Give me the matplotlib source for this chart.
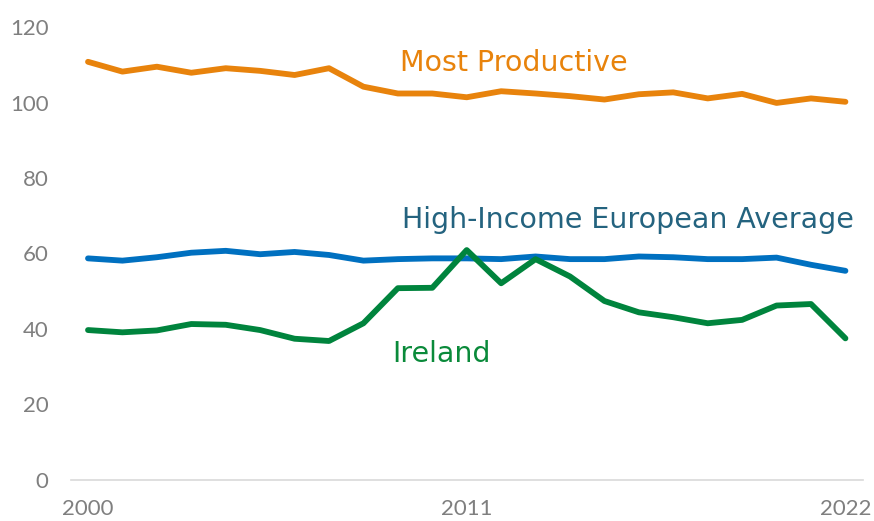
import numpy as np
import matplotlib
matplotlib.use("Agg")
import matplotlib.pyplot as plt

plt.rcParams['font.family'] = ['Lato', 'DejaVu Sans']

years = list(range(2000, 2023))
most_productive = [110.8, 108.2, 109.5, 107.9, 109.1, 108.4, 107.3, 109.1, 104.2, 102.4, 102.4, 101.4,
                   103.0, 102.4, 101.7, 100.8, 102.2, 102.7, 101.1, 102.3, 99.9, 101.1, 100.2]
high_income_eu = [58.7, 58.1, 59.0, 60.2, 60.7, 59.8, 60.4, 59.6, 58.1, 58.5, 58.7, 58.7,
                  58.5, 59.2, 58.5, 58.5, 59.2, 59.0, 58.5, 58.5, 58.9, 57.0, 55.4]
ireland = [39.7, 39.1, 39.6, 41.3, 41.1, 39.7, 37.4, 36.8, 41.5, 50.8, 50.9, 60.9,
           52.1, 58.5, 53.9, 47.4, 44.4, 43.1, 41.5, 42.4, 46.2, 46.6, 37.5]

orange = '#E8830C'
blue = '#0070C0'
green = '#00843D'

fig = plt.figure(figsize=(8.74, 5.21), dpi=100)
ax = fig.add_axes([0.081, 0.079, 0.906, 0.869])

ax.plot(years, most_productive, color=orange, lw=4.2, solid_capstyle='round', solid_joinstyle='round')
ax.plot(years, high_income_eu, color=blue, lw=4.2, solid_capstyle='round', solid_joinstyle='round')
ax.plot(years, ireland, color=green, lw=4.2, solid_capstyle='round', solid_joinstyle='round')

lab = dict(fontsize=20.5, ha='center', va='center', family=['DejaVu Sans'])
ax.text(2012.38, 110.4, 'Most Productive', color=orange, **lab)
ax.text(2015.67, 68.8, 'High-Income European Average', color='#24637F', **lab)
ax.text(2010.26, 33.3, 'Ireland', color='#0A8A3A', **lab)

ax.set_xlim(1999.5, 2022.5)
ax.set_ylim(0, 120)
ax.set_yticks(range(0, 121, 20))
ax.set_xticks([2000, 2011, 2022])
ax.tick_params(axis='both', length=0, labelsize=16, labelcolor='#7F7F7F')
ax.tick_params(axis='y', pad=16)
ax.tick_params(axis='x', pad=14)

for s in ['top', 'right', 'left']:
    ax.spines[s].set_visible(False)
ax.spines['bottom'].set_color('#D9D9D9')
ax.spines['bottom'].set_linewidth(1.2)

fig.savefig('out.png', dpi=100)
